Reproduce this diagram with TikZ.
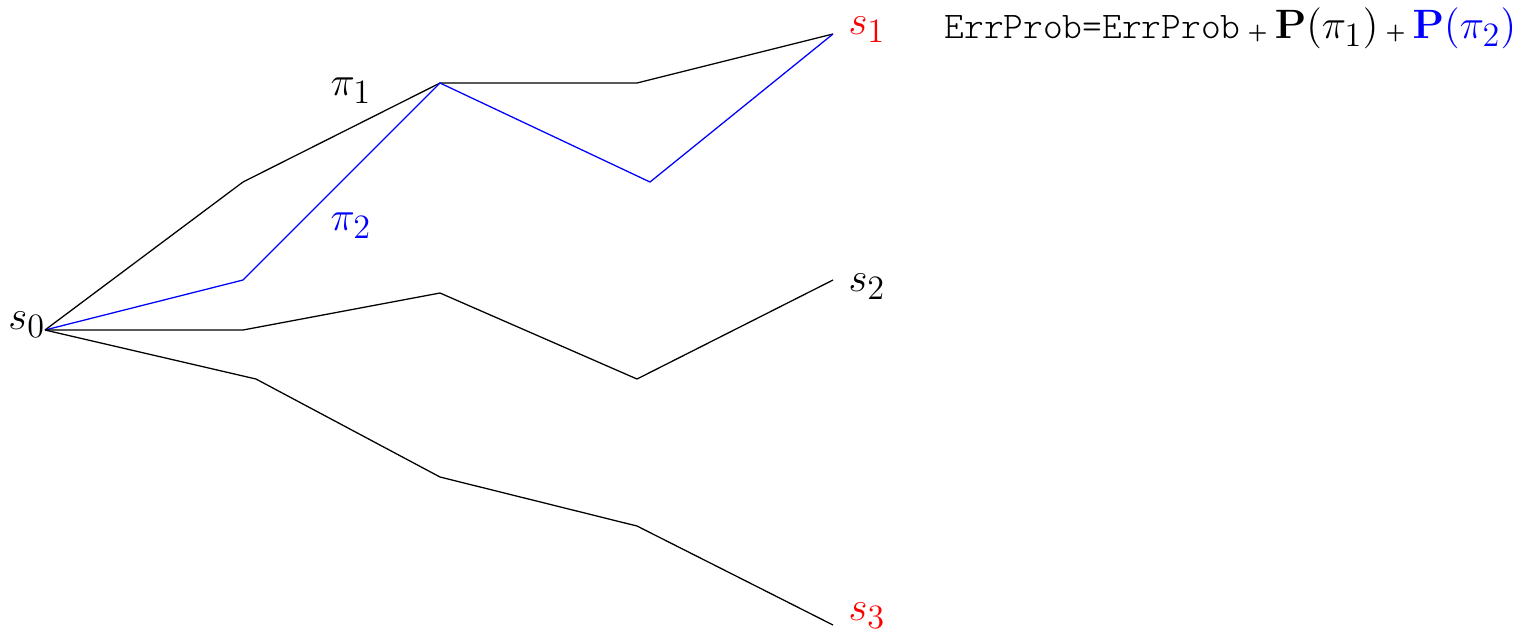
\documentclass[tikz,border=0pt]{standalone}
\usepackage{amsmath}
\DeclareMathSizes{15}{15}{11.5}{9}
\definecolor{pathblue}{RGB}{0,0,255}
\definecolor{goalred}{RGB}{255,0,0}
\usetikzlibrary{positioning}
\tikzset{
  run/.style={black, line width=0.45pt},
  bluerun/.style={pathblue, line width=0.45pt},
  lbl/.style={inner sep=0pt, font=\fontsize{15}{18}\selectfont}
}

\begin{document}
\begin{tikzpicture}[x=0.01235cm, y=-0.01235cm]
      \useasboundingbox (0,0) rectangle (1513,632);
      % States
      \coordinate (s0) at (45,330);
      \coordinate (s1) at (833,34);
      \coordinate (s2) at (833,280);
      \coordinate (s3) at (833,625);
      \node[lbl, anchor=east] (s0lbl) at (46,325) {$s_0$};
      \node[lbl, anchor=west, goalred] (s1lbl) at (848,30) {$s_1$};
      \node[lbl, anchor=west] (s2lbl) at (848,287) {$s_2$};
      \node[lbl, anchor=west, goalred] (s3lbl) at (848,616) {$s_3$};
      % Intermediate points
      \coordinate (a1) at (243,182);
      \coordinate (a2) at (440,83);
      \coordinate (a3) at (637,83);
      \coordinate (b1) at (243,280);
      \coordinate (b3) at (650,182);
      \coordinate (c1) at (243,330);
      \coordinate (c2) at (440,293);
      \coordinate (c3) at (637,379);
      \coordinate (d1) at (256,379);
      \coordinate (d2) at (440,477);
      \coordinate (d3) at (637,526);
      % pi_1 (black)
      \draw[run] (s0) -- (a1) -- (a2) -- (a3) -- (s1);
      % pi_2 (blue)
      \draw[bluerun] (s0) -- (b1) -- (a2) -- (b3) -- (s1);
      % paths to s_2 and s_3
      \draw[run] (s0) -- (c1) -- (c2) -- (c3) -- (s2);
      \draw[run] (s0) -- (d1) -- (d2) -- (d3) -- (s3);
      % Path labels
      \node[lbl] (pi1) at (351,91) {$\pi_1$};
      \node[lbl, pathblue] (pi2) at (351,226) {$\pi_2$};
      % Error probability
      \node[lbl, anchor=west] (err) at (944,28)
         {{\fontsize{13.2}{16}\fontseries{l}\ttfamily ErrProb=ErrProb}\,{\scriptsize$\boldsymbol{+}$}\,$\mathbf{P}(\pi_1)$\,{\scriptsize$\boldsymbol{+}$}\,\textcolor{pathblue}{$\mathbf{P}(\pi_2)$}};
   \end{tikzpicture}
\end{document}
